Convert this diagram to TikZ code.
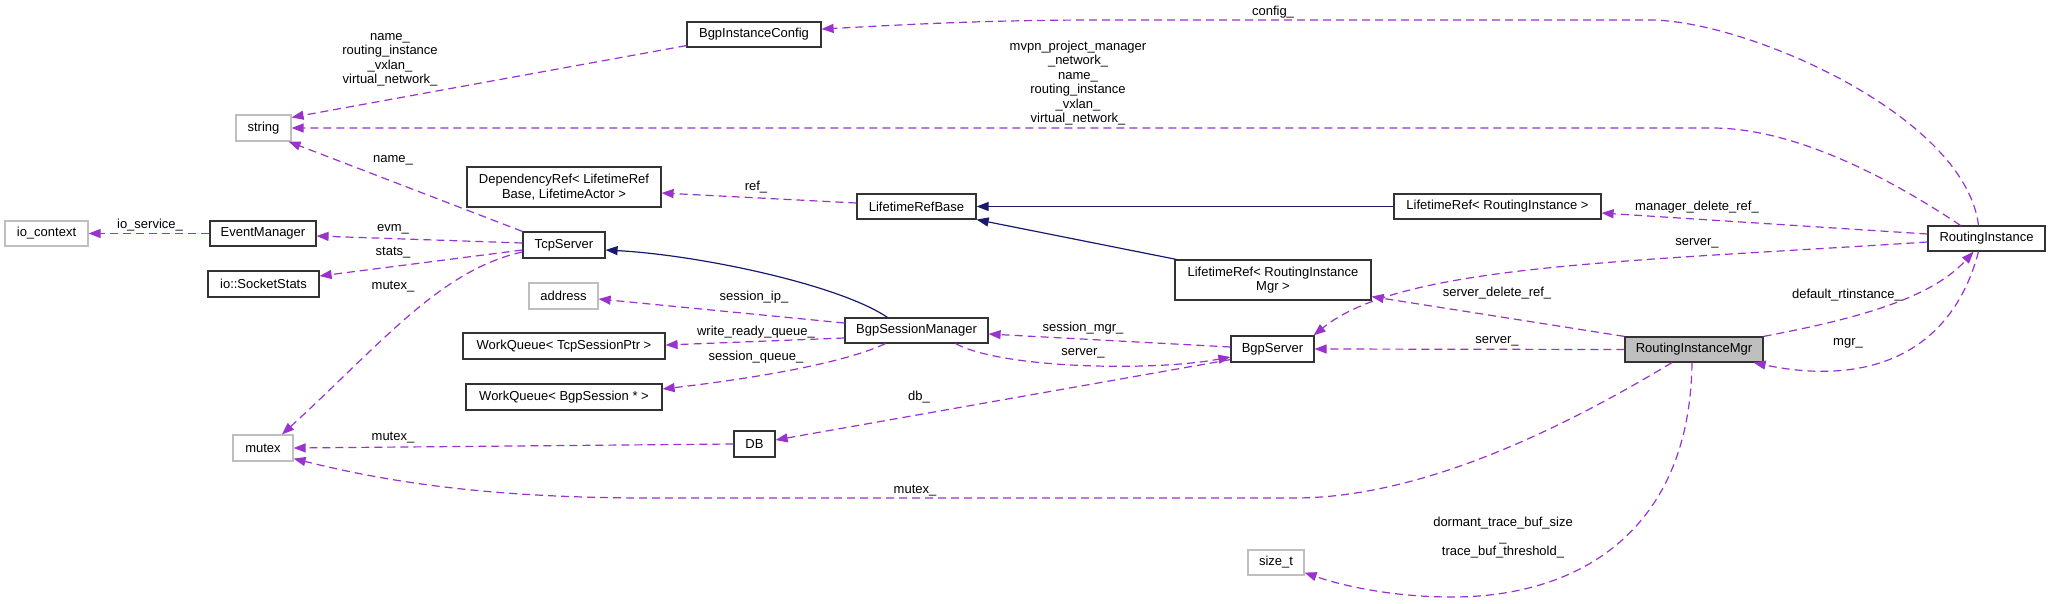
\documentclass[tikz,border=0pt]{standalone}
\usepackage{fontspec}
\setmainfont{Liberation Sans}
\usetikzlibrary{arrows.meta,calc}
\definecolor{usecol}{HTML}{9A32CD}
\definecolor{inhcol}{HTML}{191970}
\definecolor{graybox}{HTML}{BFBFBF}
\definecolor{boxline}{HTML}{333333}
\begin{document}
\begin{tikzpicture}[x=1pt,y=-1pt, font=\fontsize{13}{14.5}\selectfont,
 cls/.style={draw=boxline, line width=1.2pt, inner sep=0pt, align=center},
 ext/.style={draw=graybox, line width=1.2pt, inner sep=0pt, align=center},
 use/.style={usecol, line width=1.2pt, dash pattern=on 8pt off 5pt, -{Triangle[length=12pt,width=9pt]}},
 inh/.style={inhcol, line width=1.2pt, -{Triangle[length=12pt,width=9pt]}},
 lbl/.style={inner sep=0pt, align=center}]
\fill[white] (0,0) rectangle (2051,603);
\useasboundingbox (0,0) rectangle (2051,603);

% nodes
\node[cls, minimum width=134pt, minimum height=25pt] (BIC) at (754,34.5) {BgpInstanceConfig};
\node[ext, minimum width=55pt, minimum height=26pt] (string) at (263.5,128) {string};
\node[cls, minimum width=194pt, minimum height=40pt] (DR) at (564,187) {DependencyRef< LifetimeRef\\Base, LifetimeActor >};
\node[cls, minimum width=119pt, minimum height=25pt] (LRB) at (916.5,206.5) {LifetimeRefBase};
\node[cls, minimum width=207pt, minimum height=25pt] (LRRI) at (1497.5,206.5) {LifetimeRef< RoutingInstance >};
\node[cls, minimum width=117pt, minimum height=25pt] (RI) at (1986.5,238.5) {RoutingInstance};
\node[ext, minimum width=83pt, minimum height=25pt] (ioc) at (46.5,233.5) {io\_context};
\node[cls, minimum width=106pt, minimum height=25pt] (EM) at (263,233.5) {EventManager};
\node[cls, minimum width=82pt, minimum height=26pt] (TS) at (564,245) {TcpServer};
\node[cls, minimum width=111pt, minimum height=26pt] (SS) at (263.5,284) {io::SocketStats};
\node[cls, minimum width=196pt, minimum height=40pt] (LRRIM) at (1273,280) {LifetimeRef< RoutingInstance\\Mgr >};
\node[ext, minimum width=69pt, minimum height=26pt] (addr) at (563.5,296) {address};
\node[cls, minimum width=143pt, minimum height=25pt] (BSM) at (916.5,330.5) {BgpSessionManager};
\node[cls, minimum width=202pt, minimum height=26pt] (WQT) at (564,346) {WorkQueue< TcpSessionPtr >};
\node[cls, minimum width=83pt, minimum height=26pt] (BS) at (1272.5,349) {BgpServer};
\node[cls, fill=graybox, minimum width=138pt, minimum height=25pt] (RIM) at (1694,349.5) {RoutingInstanceMgr};
\node[cls, minimum width=196pt, minimum height=26pt] (WQB) at (564,397) {WorkQueue< BgpSession * >};
\node[ext, minimum width=60pt, minimum height=26pt] (mutex) at (263,448) {mutex};
\node[cls, minimum width=41pt, minimum height=26pt] (DB) at (754.5,444) {DB};
\node[ext, minimum width=56pt, minimum height=25pt] (sizet) at (1276,562.5) {size\_t};

% inheritance edges
\draw[inh] (LRRI.west) -- (LRB.east);
\draw[inh] ($(LRRIM.north west)+(2,0)$) -- (LRB.south east);
\draw[inh] ($(BSM.north west)+(43,0)$) .. controls (840,285) and (700,255) .. ($(TS.east)+(0,5)$);

% usage edges
\draw[use] ($(BIC.south west)+(0,-2)$) -- ($(string.north east)+(0,3)$);
\node[lbl] (l1) at (390,60) {name\_\\routing\_instance\\\_vxlan\_\\virtual\_network\_};

\draw[use] ($(RI.north)+(-8,0)$) .. controls (1965,115) and (1745,20) .. (1650,20) -- (1100,20) .. controls (980,20) and (900,25) .. ($(BIC.east)+(0,-5.5)$);
\node[lbl] (l2) at (1273,12) {config\_};

\draw[use] ($(RI.north)+(-26,0)$) .. controls (1900,185) and (1800,128) .. (1712,128) -- (string.east);
\node[lbl] (l3) at (1078,83) {mvpn\_project\_manager\\\_network\_\\name\_\\routing\_instance\\\_vxlan\_\\virtual\_network\_};

\draw[use] (TS.north west) -- ($(string.south east)+(-3,0)$);
\node[lbl] (l4) at (393,160) {name\_};

\draw[use] ($(TS.west)+(0,-2)$) -- ($(EM.east)+(0,2.5)$);
\node[lbl] (l5) at (393,229) {evm\_};

\draw[use] ($(TS.west)+(0,5)$) -- ($(SS.east)+(0,-8)$);
\node[lbl] (l6) at (393,253) {stats\_};

\draw[use] ($(TS.west)+(0,7)$) .. controls (440,270) and (380,345) .. ($(mutex.north)+(19,0)$);
\node[lbl] (l7) at (393,287) {mutex\_};

\draw[use] (EM.west) -- (ioc.east);
\node[lbl] (l8) at (150,225) {io\_service\_};

\draw[use] ($(LRB.west)+(0,-3.5)$) -- ($(DR.east)+(0,6)$);
\node[lbl] (l9) at (756,187) {ref\_};

\draw[use] ($(BSM.west)+(0,-7.5)$) -- ($(addr.east)+(0,3)$);
\node[lbl] (l10) at (754,297) {session\_ip\_};

\draw[use] ($(BSM.west)+(0,7.5)$) -- ($(WQT.east)+(0,-1)$);
\node[lbl] (l11) at (756,332) {write\_ready\_queue\_};

\draw[use] ($(BSM.south west)+(41,0)$) .. controls (840,365) and (740,380) .. ($(WQB.east)+(0,-8)$);
\node[lbl] (l12) at (756,357) {session\_queue\_};

\draw[use] ($(BS.west)+(0,-2)$) -- ($(BSM.east)+(0,3.5)$);
\node[lbl] (l13) at (1083,328) {session\_mgr\_};

\draw[use] ($(BSM.south east)+(-33,0)$) .. controls (1000,368) and (1150,372) .. ($(BS.west)+(0,8)$);
\node[lbl] (l14) at (1083,353) {server\_};

\draw[use] ($(BS.south west)+(0,-3)$) -- ($(DB.east)+(0,-4)$);
\node[lbl] (l15) at (919,397) {db\_};

\draw[use] (DB.west) -- (mutex.east);
\node[lbl] (l16) at (393,438) {mutex\_};

\draw[use] ($(RI.west)+(0,-4.5)$) -- ($(LRRI.east)+(0,6.5)$);
\node[lbl] (l17) at (1697,207) {manager\_delete\_ref\_};

\draw[use] ($(RI.west)+(0,3.5)$) .. controls (1620,262) and (1400,265) .. ($(BS.north east)+(-1,0)$);
\node[lbl] (l18) at (1697,243) {server\_};

\draw[use] (RIM.north west) -- ($(LRRIM.south east)+(0,-4)$);
\node[lbl] (l19) at (1497,293) {server\_delete\_ref\_};

\draw[use] (RIM.west) -- (BS.east);
\node[lbl] (l20) at (1497,341) {server\_};

\draw[use] (RIM.north east) .. controls (1850,320) and (1930,300) .. ($(RI.south)+(-13,0)$);
\node[lbl] (l21) at (1847,295) {default\_rtinstance\_};

\draw[use] ($(RI.south)+(-8,0)$) .. controls (1950,360) and (1860,385) .. ($(RIM.south east)+(-10,0)$);
\node[lbl] (l22) at (1848,343) {mgr\_};

\draw[use] ($(RIM.south)+(-22,0)$) .. controls (1560,430) and (1420,498) .. (1294,498) -- (650,498) .. controls (480,498) and (380,480) .. ($(mutex.south east)+(0,-3)$);
\node[lbl] (l23) at (915,491) {mutex\_};

\draw[use] ($(RIM.south)+(-2,0)$) .. controls (1690,530) and (1580,597) .. (1452,597) .. controls (1390,597) and (1340,585) .. ($(sizet.south east)+(0,-3)$);
\node[lbl] (l24) at (1503,538) {dormant\_trace\_buf\_size\\\_\\trace\_buf\_threshold\_};
\end{tikzpicture}
\end{document}
